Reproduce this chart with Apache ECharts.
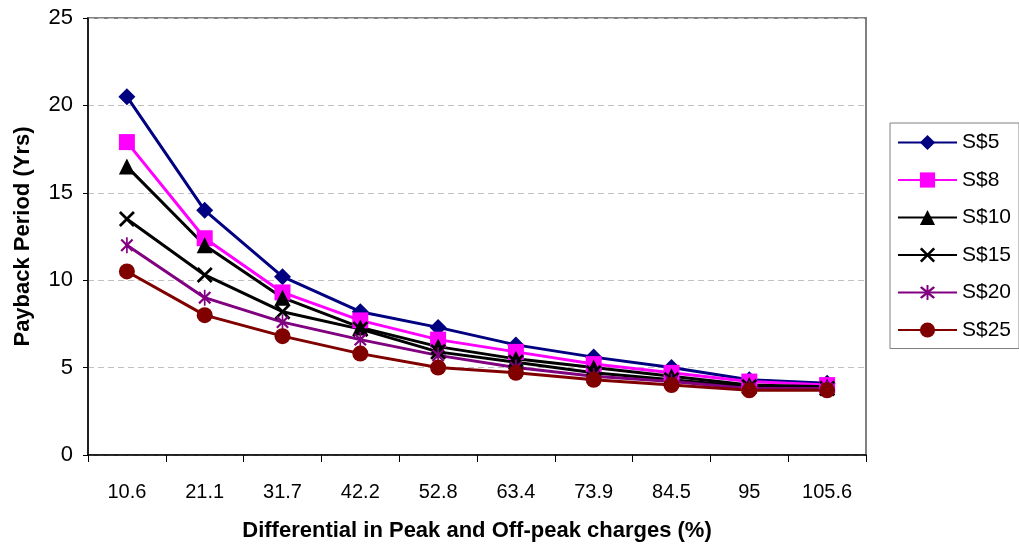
<!DOCTYPE html>
<html>
<head>
<meta charset="utf-8">
<style>
  html, body { margin: 0; padding: 0; background: #fff; }
  #chart { width: 1019px; height: 547px; }
</style>
<script src="https://cdn.jsdelivr.net/npm/echarts@6/dist/echarts.min.js"></script>
</head>
<body>
<div id="chart"></div>
<script>
// Differential between peak and off-peak charges (%)
const categories = ['10.6', '21.1', '31.7', '42.2', '52.8', '63.4', '73.9', '84.5', '95', '105.6'];

// Payback period (years) per tariff level
const s5  = [20.5, 14.0, 10.2, 8.2, 7.3, 6.3, 5.6, 5.0, 4.3, 4.1];
const s8  = [17.9, 12.4, 9.3, 7.7, 6.6, 5.9, 5.2, 4.7, 4.2, 4.0];
const s10 = [16.5, 12.0, 9.0, 7.3, 6.2, 5.5, 5.0, 4.5, 4.0, 3.9];
const s15 = [13.5, 10.3, 8.2, 7.2, 5.9, 5.3, 4.7, 4.3, 3.9, 3.8];
const s20 = [12.0, 9.0, 7.6, 6.6, 5.7, 5.0, 4.5, 4.2, 3.8, 3.8];
const s25 = [10.5, 8.0, 6.8, 5.8, 5.0, 4.7, 4.3, 4.0, 3.7, 3.7];

const yTicks = [0, 5, 10, 15, 20, 25];

// Marker shapes: a thin X, and an X with a vertical bar (asterisk)
const crossPath = 'path://M0 1.2L1.2 0L5 3.8L8.8 0L10 1.2L6.2 5L10 8.8L8.8 10L5 6.2L1.2 10L0 8.8L3.8 5Z';
const starPath = 'path://M0 1.2L1.2 0L5 3.8L8.8 0L10 1.2L6.2 5L10 8.8L8.8 10L5 6.2L1.2 10L0 8.8L3.8 5Z M4.35 -1.2L5.65 -1.2L5.65 11.2L4.35 11.2Z';

const FONT = '"Liberation Sans", Arial, sans-serif';

function makeSeries(name, data, color, symbol, size) {
  return {
    name: name,
    type: 'line',
    data: data,
    symbol: symbol,
    symbolSize: size,
    symbolKeepAspect: true,
    showAllSymbol: true,
    lineStyle: { color: color, width: 3 },
    itemStyle: { color: color, borderWidth: 0 },
    emphasis: { disabled: true },
    animation: false
  };
}

const chart = echarts.init(document.getElementById('chart'), null, { renderer: 'canvas' });

chart.setOption({
  backgroundColor: '#ffffff',
  animation: false,
  grid: {
    left: 88, right: 153, top: 18, bottom: 91,
    show: true,
    borderColor: '#808080',
    borderWidth: 2,
    backgroundColor: 'transparent'
  },
  legend: {
    orient: 'vertical',
    left: 890,
    top: 123,
    padding: [9, 8, 8, 7],
    itemGap: 16.5,
    itemWidth: 59,
    itemHeight: 19,
    borderColor: '#808080',
    borderWidth: 1,
    textStyle: { fontFamily: FONT, fontSize: 21, color: '#000' },
    data: ['S$5', 'S$8', 'S$10', 'S$15', 'S$20', 'S$25']
  },
  xAxis: {
    type: 'category',
    data: categories,
    boundaryGap: true,
    name: 'Differential in Peak and Off-peak charges (%)',
    nameLocation: 'middle',
    nameGap: 65,
    nameTextStyle: { fontFamily: FONT, fontSize: 22, fontWeight: 'bold', color: '#000' },
    axisLine: { lineStyle: { color: '#000', width: 1.5 } },
    axisTick: { show: true, inside: false, length: 7, alignWithLabel: false, lineStyle: { color: '#000' } },
    axisLabel: { fontFamily: FONT, fontSize: 20, color: '#000', margin: 27, interval: 0 },
    splitLine: { show: false }
  },
  yAxis: {
    type: 'value',
    min: yTicks[0],
    max: yTicks[yTicks.length - 1],
    interval: 5,
    name: 'Payback Period (Yrs)',
    nameLocation: 'middle',
    nameGap: 54,
    nameRotate: 90,
    nameTextStyle: { fontFamily: FONT, fontSize: 22, fontWeight: 'bold', color: '#000' },
    axisLine: { show: true, lineStyle: { color: '#000', width: 1.5 } },
    axisTick: { show: true, inside: false, length: 5, lineStyle: { color: '#000' } },
    axisLabel: { fontFamily: FONT, fontSize: 22, color: '#000', margin: 15 },
    splitLine: { show: true, lineStyle: { color: '#c0c0c0', type: [6, 4], width: 1 } }
  },
  series: [
    makeSeries('S$5',  s5,  '#000080', 'diamond', 17),
    makeSeries('S$8',  s8,  '#ff00ff', 'rect', 16),
    makeSeries('S$10', s10, '#000000', 'triangle', 16),
    makeSeries('S$15', s15, '#000000', crossPath, 16),
    makeSeries('S$20', s20, '#800080', starPath, 16),
    makeSeries('S$25', s25, '#800000', 'circle', 16)
  ]
});
</script>
</body>
</html>
